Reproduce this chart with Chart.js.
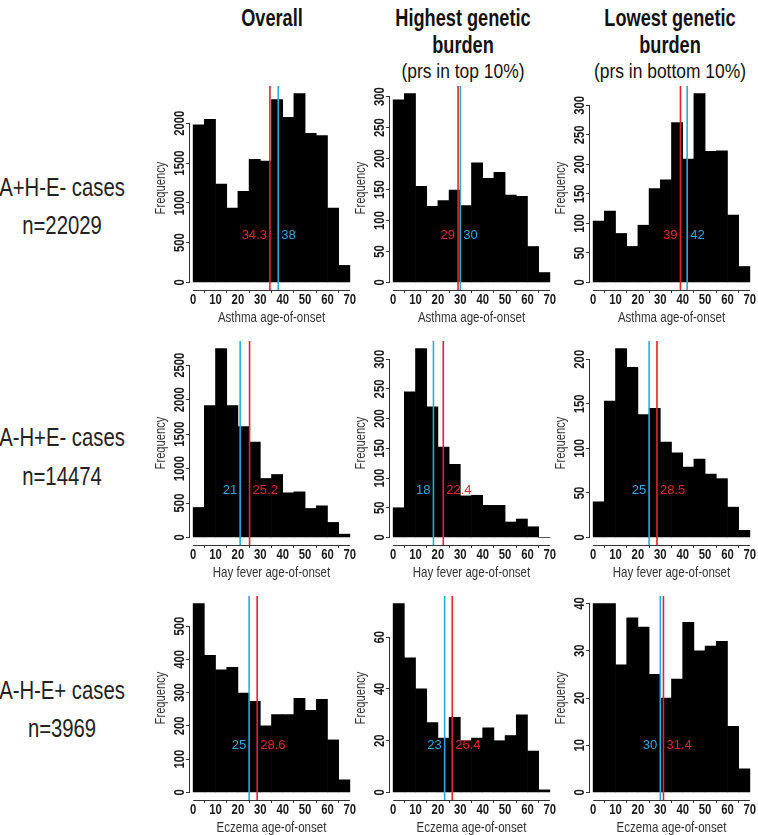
<!DOCTYPE html>
<html>
<head>
<meta charset="utf-8">
<script src="https://cdn.jsdelivr.net/npm/chart.js@4.4.1/dist/chart.umd.min.js"></script>
<style>
  html, body { margin:0; padding:0; background:#fff; width:758px; height:835px; overflow:hidden; }
  .box { position:absolute; }
  .txt { position:absolute; white-space:nowrap; text-align:center; line-height:1; color:#111;
         font-family:"Liberation Sans",Arial,sans-serif; transform-origin:50% 50%; }
  .b { font-weight:bold; font-size:23px; }
  .r { font-size:21px; }
  .row { font-size:26px; color:#222; }
</style>
</head>
<body>
<div id="root"></div>
<script>
// ---------------- DATA ----------------
const xTicks = [0, 10, 20, 30, 40, 50, 60, 70];
const binMids = [2.5, 7.5, 12.5, 17.5, 22.5, 27.5, 32.5, 37.5, 42.5, 47.5, 52.5, 57.5, 62.5, 67.5];

const colHeaders = [["Overall"], ["Highest genetic", "burden"], ["Lowest genetic", "burden"]];
const colSubHeaders = ["", "(prs in top 10%)", "(prs in bottom 10%)"];
const rowLabels = ["A+H-E- cases", "A-H+E- cases", "A-H-E+ cases"];
const rowCounts = ["n=22029", "n=14474", "n=3969"];
const xTitles = ["Asthma age-of-onset", "Hay fever age-of-onset", "Eczema age-of-onset"];
const yTitle = "Frequency";

const asthmaOverall = [1980, 2050, 1237, 935, 1145, 1547, 1526, 2298, 2075, 2373, 1874, 1845, 935, 214];
const asthmaHigh    = [295, 305, 155, 123, 132, 149, 124, 193, 168, 178, 141, 139, 58, 16];
const asthmaLow     = [104, 121, 83, 61, 97, 159, 174, 271, 209, 320, 222, 223, 114, 27];

const hayOverall = [435, 1915, 2742, 1915, 1610, 1383, 856, 914, 648, 662, 421, 459, 218, 48];
const hayHigh    = [50, 245, 318, 220, 152, 123, 70, 71, 54, 54, 26, 31, 18, 0];
const hayLow     = [40, 153, 212, 191, 138, 145, 107, 95, 79, 88, 71, 66, 34, 8];

const eczemaOverall = [568, 412, 369, 376, 299, 274, 200, 234, 234, 283, 247, 280, 158, 38];
const eczemaHigh    = [73, 52, 40, 27, 21, 29, 20, 21, 25, 20, 22, 30, 16, 1];
const eczemaLow     = [40, 40, 27, 37, 35, 25, 20, 24, 36, 30, 31, 32, 14, 5];

const yTicksAsthmaOverall = [0, 500, 1000, 1500, 2000];
const yTicksAsthmaHigh    = [0, 50, 100, 150, 200, 250, 300];
const yTicksAsthmaLow     = [0, 50, 100, 150, 200, 250, 300];
const yTicksHayOverall    = [0, 500, 1000, 1500, 2000, 2500];
const yTicksHayHigh       = [0, 50, 100, 150, 200, 250, 300];
const yTicksHayLow        = [0, 50, 100, 150, 200];
const yTicksEczemaOverall = [0, 100, 200, 300, 400, 500];
const yTicksEczemaHigh    = [0, 20, 40, 60];
const yTicksEczemaLow     = [0, 10, 20, 30, 40];

// mean (red) and median (blue) age-of-onset: [overall, highest, lowest]
const meanAsthma   = [34.3, 29, 39];
const medianAsthma = [38, 30, 42];
const meanHay      = [25.2, 22.4, 28.5];
const medianHay    = [21, 18, 25];
const meanEczema   = [28.6, 26.4, 31.4];
const medianEczema = [25, 23, 30];

// ---------------- STYLE / LAYOUT ----------------
const FONT = '"Liberation Sans",Arial,sans-serif';
const RED = '#e3242b';
const BLUE = '#29abe2';
const AXIS = '#333';
const colLeft = [150, 350, 550];
const rowChartTop = [86, 341, 596];
const PAD_TOP = 6, Y_AXIS_W = 40, X_AXIS_H = 40, PLOT_H = 204, PAD_R = 5, BOX_W = 208;
const headerCenters = [272, 463, 670];
const headerLineY = [18, 45, 70];
const rowLabelCenterX = 62;
const rowLabelY = [[187, 225], [437, 476], [690, 728]];
const SQ_HEAD = 0.79, SQ_SUB = 0.83, SQ_ROW = 0.78, SQ_TICK = 0.78, SQ_TITLE = 0.77;

const panels = [
  { counts: asthmaOverall, yTicks: yTicksAsthmaOverall, mean: meanAsthma[0], median: medianAsthma[0], row: 0, col: 0 },
  { counts: asthmaHigh,    yTicks: yTicksAsthmaHigh,    mean: meanAsthma[1], median: medianAsthma[1], row: 0, col: 1 },
  { counts: asthmaLow,     yTicks: yTicksAsthmaLow,     mean: meanAsthma[2], median: medianAsthma[2], row: 0, col: 2 },
  { counts: hayOverall,    yTicks: yTicksHayOverall,    mean: meanHay[0],    median: medianHay[0],    row: 1, col: 0 },
  { counts: hayHigh,       yTicks: yTicksHayHigh,       mean: meanHay[1],    median: medianHay[1],    row: 1, col: 1 },
  { counts: hayLow,        yTicks: yTicksHayLow,        mean: meanHay[2],    median: medianHay[2],    row: 1, col: 2 },
  { counts: eczemaOverall, yTicks: yTicksEczemaOverall, mean: meanEczema[0], median: medianEczema[0], row: 2, col: 0 },
  { counts: eczemaHigh,    yTicks: yTicksEczemaHigh,    mean: meanEczema[1], median: medianEczema[1], row: 2, col: 1 },
  { counts: eczemaLow,     yTicks: yTicksEczemaLow,     mean: meanEczema[2], median: medianEczema[2], row: 2, col: 2 },
];

const root = document.getElementById('root');
function addText(text, cls, cx, cy, sq) {
  const d = document.createElement('div');
  d.className = 'txt ' + cls;
  d.textContent = text;
  d.style.left = (cx - 150) + 'px';
  d.style.width = '300px';
  d.style.top = cy + 'px';
  d.style.transform = 'translateY(-50%) scaleX(' + sq + ')';
  root.appendChild(d);
}
colHeaders.forEach((lines, c) => {
  lines.forEach((t, i) => addText(t, 'b', headerCenters[c], headerLineY[i], SQ_HEAD));
  if (colSubHeaders[c]) addText(colSubHeaders[c], 'r', headerCenters[c], headerLineY[lines.length], SQ_SUB);
});
rowLabels.forEach((t, r) => {
  addText(t, 'row', rowLabelCenterX, rowLabelY[r][0], SQ_ROW);
  addText(rowCounts[r], 'row', rowLabelCenterX, rowLabelY[r][1], SQ_ROW);
});

function squeezedText(ctx, text, x, y, font, color, sq, rot) {
  ctx.save();
  ctx.translate(x, y);
  if (rot) ctx.rotate(rot);
  ctx.scale(sq, 1);
  ctx.font = font;
  ctx.fillStyle = color;
  ctx.textAlign = 'center';
  ctx.textBaseline = 'middle';
  ctx.fillText(text, 0, 0);
  ctx.restore();
}

const rStyle = {
  id: 'rStyle',
  afterDatasetsDraw(chart) {
    const cfg = chart.options.plugins.rStyle;
    const { ctx, chartArea: a, scales: { x, y } } = chart;
    ctx.save();
    ctx.strokeStyle = AXIS;
    ctx.lineWidth = 1;
    // x axis line (first to last tick)
    const xb = Math.round(a.bottom) + 0.5;
    ctx.beginPath();
    ctx.moveTo(x.getPixelForValue(xTicks[0]), xb);
    ctx.lineTo(x.getPixelForValue(xTicks[xTicks.length - 1]), xb);
    ctx.stroke();
    // y axis line
    const yl = Math.round(a.left) - 0.5;
    ctx.beginPath();
    ctx.moveTo(yl, y.getPixelForValue(cfg.yTicks[0]));
    ctx.lineTo(yl, y.getPixelForValue(cfg.yTicks[cfg.yTicks.length - 1]));
    ctx.stroke();
    // tick labels
    const tickFont = 'bold 14.5px ' + FONT;
    xTicks.forEach(v => squeezedText(ctx, String(v), x.getPixelForValue(v), a.bottom + 10, tickFont, '#1a1a1a', SQ_TICK, 0));
    cfg.yTicks.forEach(v => squeezedText(ctx, String(v), a.left - 10, y.getPixelForValue(v), tickFont, '#1a1a1a', SQ_TICK, -Math.PI / 2));
    // axis titles
    squeezedText(ctx, cfg.xTitle, (x.getPixelForValue(xTicks[0]) + x.getPixelForValue(xTicks[xTicks.length - 1])) / 2,
                 a.bottom + 28, '15px ' + FONT, '#333', SQ_TITLE, 0);
    squeezedText(ctx, yTitle, a.left - 29, (a.top + a.bottom) / 2, '14.5px ' + FONT, '#333', SQ_TITLE, -Math.PI / 2);
    // mean / median lines
    const marks = [
      { v: cfg.mean, color: RED },
      { v: cfg.median, color: BLUE },
    ].sort((p, q) => p.v - q.v);
    ctx.lineWidth = 1.6;
    marks.forEach(m => {
      const px = x.getPixelForValue(m.v);
      ctx.strokeStyle = m.color;
      ctx.beginPath();
      ctx.moveTo(px, a.top);
      ctx.lineTo(px, a.bottom);
      ctx.stroke();
    });
    const ly = y.getPixelForValue(cfg.labelY);
    ctx.font = '13px ' + FONT;
    ctx.textBaseline = 'middle';
    marks.forEach((m, i) => {
      const px = x.getPixelForValue(m.v);
      ctx.fillStyle = m.color;
      ctx.textAlign = i === 0 ? 'right' : 'left';
      ctx.fillText(String(m.v), i === 0 ? px - 3 : px + 3, ly);
    });
    ctx.restore();
  }
};

panels.forEach(p => {
  const box = document.createElement('div');
  box.className = 'box';
  box.style.left = colLeft[p.col] + 'px';
  box.style.top = (rowChartTop[p.row] - PAD_TOP) + 'px';
  box.style.width = BOX_W + 'px';
  box.style.height = (PAD_TOP + PLOT_H + X_AXIS_H) + 'px';
  const cv = document.createElement('canvas');
  box.appendChild(cv);
  root.appendChild(box);
  const maxCount = Math.max(...p.counts);
  new Chart(cv, {
    type: 'bar',
    data: {
      datasets: [{
        data: binMids.map((m, i) => ({ x: m, y: p.counts[i] })),
        backgroundColor: '#000',
        borderWidth: 0,
        barPercentage: 1,
        categoryPercentage: 1,
      }]
    },
    plugins: [rStyle],
    options: {
      responsive: true,
      maintainAspectRatio: false,
      animation: false,
      events: [],
      layout: { padding: { top: PAD_TOP, right: PAD_R, left: 0, bottom: 0 } },
      plugins: {
        legend: { display: false },
        tooltip: { enabled: false },
        rStyle: { yTicks: p.yTicks, mean: p.mean, median: p.median, labelY: maxCount / 4, xTitle: xTitles[p.row] },
      },
      scales: {
        x: {
          type: 'linear', min: -1.4, max: 71.4, offset: false,
          afterBuildTicks: s => { s.ticks = xTicks.map(v => ({ value: v })); },
          afterFit: s => { s.height = X_AXIS_H; },
          grid: { display: true, drawOnChartArea: false, drawTicks: true, tickLength: 3, color: AXIS, lineWidth: 1 },
          border: { display: false },
          ticks: { display: false },
          title: { display: false },
        },
        y: {
          type: 'linear', min: -0.04 * maxCount, max: 1.04 * maxCount,
          afterBuildTicks: s => { s.ticks = p.yTicks.map(v => ({ value: v })); },
          afterFit: s => { s.width = Y_AXIS_W; },
          grid: { display: true, drawOnChartArea: false, drawTicks: true, tickLength: 4, color: AXIS, lineWidth: 1 },
          border: { display: false },
          ticks: { display: false },
          title: { display: false },
        }
      }
    }
  });
});
</script>
</body>
</html>
